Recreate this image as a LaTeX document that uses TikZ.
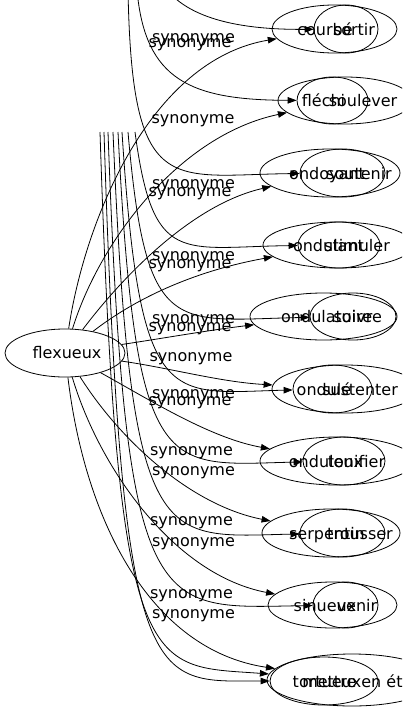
\documentclass[tikz,border=0pt]{standalone}
\usepackage{fontspec}
\setmainfont{DejaVu Sans}
\usetikzlibrary{shapes.geometric,arrows.meta}
\tikzset{
  ell/.style={draw, ellipse, line width=0.8pt, inner sep=0pt, minimum width=#1},
  wtxt/.style={anchor=base, inner sep=0pt, font=\fontsize{16}{19}\selectfont},
  lbl/.style={anchor=base, inner sep=0pt, font=\fontsize{16}{19}\selectfont},
  edge/.style={draw, line width=0.8pt, -{Triangle[length=9pt,width=6.5pt]}}
}
\begin{document}
\begin{tikzpicture}[x=1pt,y=-1pt]
\useasboundingbox (0,0) rectangle (402,707);
\fill[white] (0,0) rectangle (402,707);
\clip (0,0) rectangle (402,707);

% source node
\node[ell=120pt, minimum height=48pt] (flex) at (65,353) {};
\node[wtxt] (tflex) at (67,358) {flexueux};

% outer ellipses (targets of flexueux)
\node[ell=125pt, minimum height=48pt] (o1) at (334.5,29) {};
\node[ell=134pt, minimum height=47pt] (o2) at (345,100.5) {};
\node[ell=140pt, minimum height=48pt] (o3) at (330,173) {};
\node[ell=150pt, minimum height=46pt] (o4) at (338,245) {};
\node[ell=147pt, minimum height=47pt] (o5) at (323.5,316.5) {};
\node[ell=146pt, minimum height=48pt] (o6) at (345,389) {};
\node[ell=154pt, minimum height=48pt] (o7) at (337,461) {};
\node[ell=138pt, minimum height=48pt] (o8) at (331,533) {};
\node[ell=129pt, minimum height=46pt] (o9) at (332.5,605) {};
\node[ell=170pt, minimum height=52pt] (o10) at (352,680) {};

% inner ellipses
\node[ell=64pt, minimum height=48pt] (i1) at (346,29) {};
\node[ell=71pt, minimum height=47pt] (i2) at (332.5,100.5) {};
\node[ell=85pt, minimum height=48pt] (i3) at (342.5,173) {};
\node[ell=82pt, minimum height=46pt] (i4) at (339,245) {};
\node[ell=86pt, minimum height=47pt] (i5) at (353,316.5) {};
\node[ell=79pt, minimum height=48pt] (i6) at (332.5,389) {};
\node[ell=82pt, minimum height=48pt] (i7) at (344,461) {};
\node[ell=85pt, minimum height=48pt] (i8) at (342.5,533) {};
\node[ell=65pt, minimum height=46pt] (i9) at (345.5,605) {};
\node[ell=108pt, minimum height=48pt] (i10) at (324,681) {};

% words
\node[wtxt] (w1a) at (325,35) {courbé};
\node[wtxt] (w1b) at (354,35) {sortir};
\node[wtxt] (w2a) at (323.5,106.5) {fléchi};
\node[wtxt] (w2b) at (363,106.5) {soulever};
\node[wtxt] (w3a) at (327,179) {ondoyant};
\node[wtxt] (w3b) at (359,179) {soutenir};
\node[wtxt] (w4a) at (328.5,251) {ondulant};
\node[wtxt] (w4b) at (357,251) {stimuler};
\node[wtxt] (w5a) at (326.7,322.5) {ondulatoire};
\node[wtxt] (w5b) at (357.6,322.5) {suivre};
\node[wtxt] (w6a) at (324,395) {ondulé};
\node[wtxt] (w6b) at (360,395) {sustenter};
\node[wtxt] (w7a) at (326,467) {onduleux};
\node[wtxt] (w7b) at (356.5,467) {tonifier};
\node[wtxt] (w8a) at (327,539) {serpentin};
\node[wtxt] (w8b) at (360,539) {trousser};
\node[wtxt] (w9a) at (325,611) {sinueux};
\node[wtxt] (w9b) at (357,611) {venir};
\node[wtxt] (w10a) at (327,687) {tortueux};
\node[wtxt] (w10b) at (360.5,687) {mettre en état};

% edges from flexueux
\draw[edge] (flex) .. controls (85,220) and (150,60) .. (o1);
\draw[edge] (flex) .. controls (100,240) and (180,135) .. (o2);
\draw[edge] (flex) .. controls (120,280) and (190,205) .. (o3);
\draw[edge] (flex) .. controls (140,295) and (200,270) .. (o4);
\draw[edge] (flex) .. controls (165,338) and (210,330) .. (o5);
\draw[edge] (flex) .. controls (170,368) and (220,382) .. (o6);
\draw[edge] (flex) .. controls (150,400) and (210,438) .. (o7);
\draw[edge] (flex) .. controls (120,440) and (190,505) .. (o8);
\draw[edge] (flex) .. controls (100,470) and (175,575) .. (o9);
\draw[edge] (flex) .. controls (85,520) and (150,650) .. (o10);

% free ends of the other edges
\coordinate (s1) at (160,-20);
\coordinate (s2) at (137,-10);
\coordinate (s3) at (128,-10);
\coordinate (s4) at (135,132);
\coordinate (s5) at (128,132);
\coordinate (s6) at (122,132);
\coordinate (s7) at (118,132);
\coordinate (s8) at (113,132);
\coordinate (s9) at (108,132);
\coordinate (s10) at (104,132);
\coordinate (s11) at (100,132);

\draw[edge] (s1) .. controls (180,15) and (230,30) .. (i1);
\draw[edge] (s2) .. controls (145,80) and (190,100) .. (i2);
\draw[edge] (s3) .. controls (132,200) and (170,175) .. (i3);
\draw[edge] (s4) .. controls (153,267) and (181,247) .. (i4);
\draw[edge] (s5) .. controls (146,340) and (174,320) .. (i5);
\draw[edge] (s6) .. controls (140,413) and (168,393) .. (i6);
\draw[edge] (s7) .. controls (136,485) and (164,465) .. (i7);
\draw[edge] (s8) .. controls (131,557) and (159,537) .. (i8);
\draw[edge] (s9) .. controls (126,628) and (154,608) .. (i9);
\draw[edge] (s10) .. controls (122,701) and (150,681) .. (i10);
\draw[edge] (s11) .. controls (118,685) and (146,665) .. (o10);

% edge labels
\node[lbl] (l1) at (193.5,42.5) {synonyme};
\node[lbl] (l2) at (190,47) {synonyme};
\node[lbl] (l3) at (193,123.5) {synonyme};
\node[lbl] (l4) at (193.5,188.5) {synonyme};
\node[lbl] (l5) at (190,196.5) {synonyme};
\node[lbl] (l6) at (193.5,260.5) {synonyme};
\node[lbl] (l7) at (190,268.5) {synonyme};
\node[lbl] (l8) at (193.5,323.5) {synonyme};
\node[lbl] (l9) at (190,331.5) {synonyme};
\node[lbl] (l10) at (191,361.5) {synonyme};
\node[lbl] (l11) at (193.5,398.5) {synonyme};
\node[lbl] (l12) at (190,405) {synonyme};
\node[lbl] (l13) at (191.5,455.5) {synonyme};
\node[lbl] (l14) at (193.5,475.5) {synonyme};
\node[lbl] (l15) at (191.5,525.5) {synonyme};
\node[lbl] (l16) at (193.5,546.5) {synonyme};
\node[lbl] (l17) at (191.5,598.5) {synonyme};
\node[lbl] (l18) at (193.5,618.5) {synonyme};
\end{tikzpicture}
\end{document}
